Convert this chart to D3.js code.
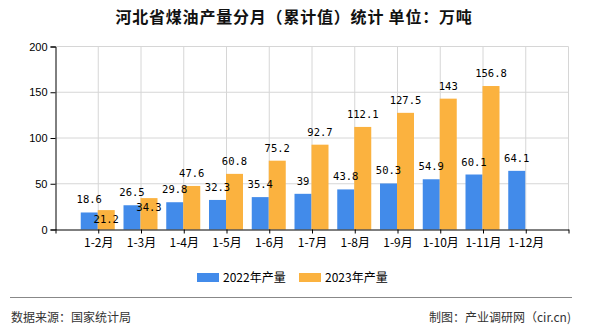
<!DOCTYPE html>
<html><head><meta charset="utf-8">
<script src="https://cdn.jsdelivr.net/npm/d3@7/dist/d3.min.js"></script>
<style>
html,body{margin:0;padding:0;background:#fff;}
svg{display:block;}
</style>
</head><body>
<svg id="c" width="590" height="330"></svg>
<script>
const categories = ["1-2月","1-3月","1-4月","1-5月","1-6月","1-7月","1-8月","1-9月","1-10月","1-11月","1-12月"];
const values2022 = [18.6,26.5,29.8,32.3,35.4,39,43.8,50.3,54.9,60.1,64.1];
const values2023 = [21.2,34.3,47.6,60.8,75.2,92.7,112.1,127.5,143,156.8,null];
const yTicks = [0,50,100,150,200];
const seriesNames = ["2022年产量","2023年产量"];
const colors = ["#428BEA","#FBB23F"];
const title = "河北省煤油产量分月（累计值）统计 单位：万吨";
const sourceText = "数据来源：国家统计局";
const creditText = "制图：产业调研网（cir.cn)";

(function(){
const svg = d3.select("#c");
const cjk = "'Noto Sans CJK SC','Noto Sans',sans-serif";
const pLeft = 55.5, pRight = 568.5, pTop = 46.5, pBottom = 229.5;
const x = d3.scaleLinear().domain([0, categories.length + 1]).range([pLeft, pRight]);
const y = d3.scaleLinear().domain([0, 200]).range([pBottom, pTop]);
const bw = 17;

// title
svg.append("text").attr("x", 294).attr("y", 23).attr("text-anchor","middle")
  .attr("font-family", cjk).attr("font-size", 16).attr("font-weight", "bold")
  .attr("letter-spacing", 0.8).attr("fill","#111").text(title);

// grid
const g = svg.append("g");
g.selectAll("line.h").data(yTicks.filter(d=>d>0)).join("line")
  .attr("x1", pLeft).attr("x2", pRight).attr("y1", d=>y(d)).attr("y2", d=>y(d))
  .attr("stroke","#d6d6d6").attr("stroke-width",1);
g.selectAll("line.v").data(d3.range(1, categories.length + 2)).join("line")
  .attr("x1", d=>x(d)).attr("x2", d=>x(d)).attr("y1", pTop).attr("y2", pBottom)
  .attr("stroke","#d6d6d6").attr("stroke-width",1);

// bars
const bars = svg.append("g");
values2022.forEach((v,i)=>{
  if (v==null) return;
  bars.append("rect").attr("x", x(i+1)-0.5-bw).attr("y", y(v)).attr("width", bw)
    .attr("height", y(0)-y(v)).attr("fill", colors[0]);
});
values2023.forEach((v,i)=>{
  if (v==null) return;
  bars.append("rect").attr("x", x(i+1)-0.5).attr("y", y(v)).attr("width", bw)
    .attr("height", y(0)-y(v)).attr("fill", colors[1]);
});

// axes
const yAxis = d3.axisLeft(y).tickValues(yTicks).tickSize(5).tickPadding(3);
const ya = svg.append("g").attr("transform", `translate(${pLeft},0)`).call(yAxis);
ya.select(".domain").attr("stroke","#000");
ya.selectAll(".tick line").attr("stroke","#000");
ya.selectAll("text").attr("font-family","'Liberation Sans',Arial,sans-serif").attr("font-size",11).attr("fill","#000");

const xAxis = d3.axisBottom(x).tickValues(d3.range(0, categories.length + 2))
  .tickSize(4).tickSizeOuter(0).tickPadding(5)
  .tickFormat(d => (d>=1 && d<=categories.length) ? categories[d-1] : "");
const xa = svg.append("g").attr("transform", `translate(0,${pBottom})`).call(xAxis);
xa.select(".domain").attr("stroke","#000");
xa.selectAll(".tick line").attr("stroke","#000");
xa.selectAll("text").attr("font-family", cjk).attr("font-size",12).attr("fill","#000");

// data labels
const lab = svg.append("g").attr("font-family","'DejaVu Sans Mono','Liberation Mono',monospace")
  .attr("font-size",10.5).attr("fill","#000").attr("text-anchor","middle");
values2022.forEach((v,i)=>{
  if (v==null) return;
  lab.append("text").attr("x", x(i+1)-0.5-bw/2).attr("y", y(v)-9).text(v);
});
values2023.forEach((v,i)=>{
  if (v==null) return;
  const blueY = y(values2022[i]) - 9;
  let ly = y(v) - 9;
  if (Math.abs(ly - blueY) < 12) ly = y(v) + 12.5;
  lab.append("text").attr("x", x(i+1)-0.5+bw/2).attr("y", ly).text(v);
});

// legend
const legX = [197, 299];
seriesNames.forEach((n,i)=>{
  svg.append("rect").attr("x", legX[i]).attr("y", 273).attr("width", 22).attr("height", 9).attr("fill", colors[i]);
  svg.append("text").attr("x", legX[i]+26).attr("y", 282).attr("font-family", cjk)
    .attr("font-size", 12).attr("fill","#000").text(n);
});

// footer
svg.append("line").attr("x1",10).attr("x2",572).attr("y1",297.5).attr("y2",297.5).attr("stroke","#888").attr("stroke-width",1);
svg.append("text").attr("x",11).attr("y",322).attr("font-family",cjk).attr("font-size",12).attr("fill","#333").text(sourceText);
svg.append("text").attr("x",571).attr("y",322).attr("text-anchor","end").attr("font-family",cjk).attr("font-size",12).attr("fill","#333").text(creditText);
})();
</script>
</body></html>
